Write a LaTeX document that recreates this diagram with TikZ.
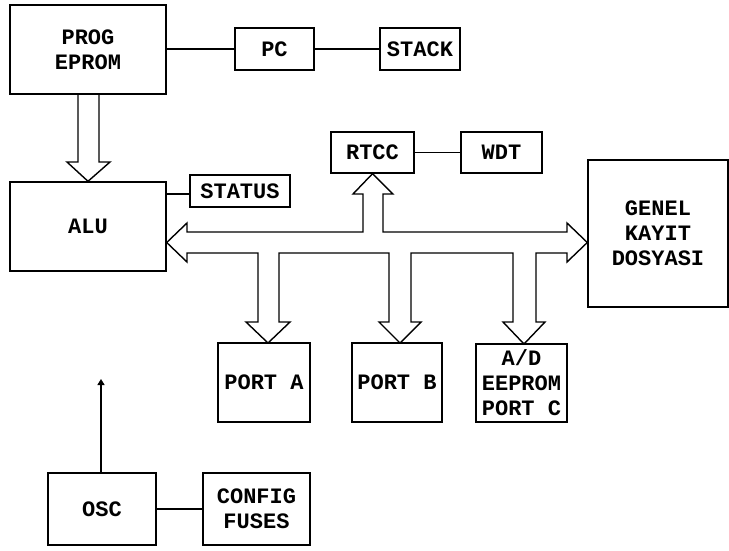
\documentclass[tikz,border=0pt]{standalone}
\usepackage{fontspec}
\setmainfont{Liberation Mono}
\usetikzlibrary{arrows.meta}
\begin{document}
\begin{tikzpicture}[x=1pt,y=-1pt,
  blk/.style={draw,line width=1.4pt,inner sep=0pt,align=center,
    font=\fontsize{22}{25}\selectfont\bfseries},
  wire/.style={line width=1.4pt},
  hollow/.style={line width=1.4pt,line join=miter}]
\useasboundingbox (0,0) rectangle (729,550);
% boxes
\node[blk,minimum width=156pt,minimum height=89pt] (prog) at (88,49.5) {PROG\\EPROM};
\node[blk,minimum width=79pt,minimum height=42pt] (pc) at (274.5,49) {PC};
\node[blk,minimum width=80pt,minimum height=42pt] (stack) at (420,49) {STACK};
\node[blk,minimum width=156pt,minimum height=89pt] (alu) at (88,226.5) {ALU};
\node[blk,minimum width=100pt,minimum height=32pt] (status) at (240,191) {STATUS};
\node[blk,minimum width=83pt,minimum height=41pt] (rtcc) at (372.5,152.5) {RTCC};
\node[blk,minimum width=81pt,minimum height=41pt] (wdt) at (501.5,152.5) {WDT};
\node[blk,minimum width=140pt,minimum height=147pt] (genel) at (658,233.5) {GENEL\\KAYIT\\DOSYASI};
\node[blk,minimum width=92pt,minimum height=79pt] (porta) at (264,382.5) {PORT A};
\node[blk,minimum width=90pt,minimum height=79pt] (portb) at (397,382.5) {PORT B};
\node[blk,minimum width=91pt,minimum height=78pt] (portc) at (521.5,383) {A/D\\EEPROM\\PORT C};
\node[blk,line width=2.2pt,minimum width=108pt,minimum height=72pt] (osc) at (102,509) {OSC};
\node[blk,line width=2.2pt,minimum width=107pt,minimum height=72pt] (config) at (256.5,509) {CONFIG\\FUSES};
\coordinate (clk) at (101,379);
% simple connectors
\draw[wire] (prog.east |- pc.west) -- (pc.west);
\draw[wire] (pc.east) -- (stack.west);
\draw[wire] (rtcc.east) -- (wdt.west);
\draw[wire] (alu.east |- 0,194) -- (status.west |- 0,194);
\draw[line width=2.2pt] (osc.east) -- (config.west);
\draw[line width=1.4pt,-{Triangle[length=6pt,width=7pt]}] (osc.north -| clk) -- (clk);
% hollow arrow PROG -> ALU
\draw[hollow] (78,94) -- (78,162) -- (67,162) -- (alu.north) -- (110,162) -- (99,162) -- (99,94);
% bus
\draw[hollow] (alu.east |- 0,242.5) -- (187,223) -- (187,232) -- (363,232) -- (363,194)
  -- (353,194) -- (rtcc.south) -- (393,194) -- (383,194) -- (383,232)
  -- (567,232) -- (567,223) -- (genel.west |- 0,242.5) -- (567,262) -- (567,253)
  -- (536,253) -- (536,322) -- (545,322) -- (524,344) -- (503,322) -- (513,322) -- (513,253)
  -- (411,253) -- (411,322) -- (421,322) -- (400,343) -- (379,322) -- (389,322) -- (389,253)
  -- (279,253) -- (279,322) -- (290,322) -- (268,343) -- (246,322) -- (258,322) -- (258,253)
  -- (187,253) -- (187,262) -- cycle;
\end{tikzpicture}
\end{document}
